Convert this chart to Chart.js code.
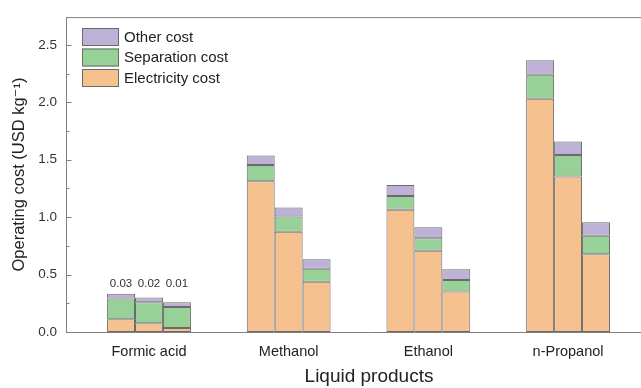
<!DOCTYPE html>
<html>
<head>
<meta charset="utf-8">
<script src="https://cdn.jsdelivr.net/npm/chart.js@4.4.0/dist/chart.umd.min.js"></script>
<style>
  html, body { margin: 0; padding: 0; background: #fff; overflow: hidden; width: 641px; height: 388px; }
  #wrap { position: absolute; left: 0; top: 0; width: 680px; height: 388px; }
</style>
</head>
<body>
<div id="wrap"><canvas id="c" width="680" height="388"></canvas></div>
<script>
// Products on the x axis
const categories = ['Formic acid', 'Methanol', 'Ethanol', 'n-Propanol'];
// Three bars per product (left to right), cost in USD per kg
const electricityCost = [
  [0.111, 0.077, 0.035],
  [1.313, 0.873, 0.437],
  [1.065, 0.708, 0.352],
  [2.032, 1.353, 0.676]
];
const separationCost = [
  [0.180, 0.182, 0.183],
  [0.142, 0.132, 0.114],
  [0.120, 0.109, 0.100],
  [0.208, 0.188, 0.163]
];
const otherCost = [
  [0.043, 0.041, 0.042],
  [0.081, 0.080, 0.083],
  [0.094, 0.096, 0.094],
  [0.126, 0.117, 0.116]
];
// Notes printed above the formic acid bars
const formicLabels = ['0.03', '0.02', '0.01'];
// Labelled y ticks
const yTicks = [0, 0.5, 1.0, 1.5, 2.0, 2.5];

const FONT = "'Liberation Sans', Arial, 'DejaVu Sans', sans-serif";
const AXIS = '#808080';
const EDGE = '#6a6a6a';

const series = [
  { label: 'Electricity cost', values: electricityCost, color: '#f5c28f' },
  { label: 'Separation cost', values: separationCost, color: '#98d198' },
  { label: 'Other cost', values: otherCost, color: '#beb1d6' }
];

const datasets = [];
for (let k = 0; k < 3; k++) {
  series.forEach(s => {
    datasets.push({
      label: s.label,
      stack: 'bar' + k,
      data: categories.map((c, i) => ({ x: i, y: s.values[i][k] })),
      backgroundColor: s.color,
      borderColor: EDGE,
      borderWidth: 1,
      borderSkipped: false,
      categoryPercentage: 0.6,
      barPercentage: 1.0
    });
  });
}

const decorations = {
  id: 'decorations',
  afterDraw(chart) {
    const { ctx, chartArea } = chart;
    const ys = chart.scales.y;
    ctx.save();
    // top frame line
    ctx.strokeStyle = AXIS;
    ctx.lineWidth = 1;
    ctx.beginPath();
    ctx.moveTo(chartArea.left, chartArea.top + 0.5);
    ctx.lineTo(chartArea.right, chartArea.top + 0.5);
    ctx.stroke();
    // inward major and minor ticks on the y axis
    const x0 = Math.round(chartArea.left) + 0.5;
    yTicks.forEach(v => {
      const py = Math.round(ys.getPixelForValue(v)) + 0.5;
      ctx.beginPath();
      ctx.moveTo(x0, py);
      ctx.lineTo(x0 + 5, py);
      ctx.stroke();
      const mid = v + 0.25;
      if (mid <= ys.max) {
        const pm = Math.round(ys.getPixelForValue(mid)) + 0.5;
        ctx.beginPath();
        ctx.moveTo(x0, pm);
        ctx.lineTo(x0 + 3, pm);
        ctx.stroke();
      }
    });

    // notes above the formic acid bars
    const tops = [];
    chart.data.datasets.forEach((d, di) => {
      if (d.label === 'Other cost') tops.push(chart.getDatasetMeta(di).data[0]);
    });
    const topY = Math.min(...tops.map(el => el.y));
    ctx.fillStyle = '#333';
    ctx.font = '11.5px ' + FONT;
    ctx.textAlign = 'center';
    ctx.textBaseline = 'middle';
    tops.forEach((el, k) => ctx.fillText(formicLabels[k], el.x, topY - 10));

    // legend, top entry first
    const entries = series.slice().reverse();
    const bx = 82, bw = 37, bh = 18, gap = 20.5;
    ctx.font = '15px ' + FONT;
    ctx.textAlign = 'left';
    entries.forEach((s, i) => {
      const by = 28 + i * gap;
      ctx.fillStyle = s.color;
      ctx.fillRect(bx, by, bw, bh);
      ctx.strokeStyle = EDGE;
      ctx.strokeRect(bx + 0.5, by + 0.5, bw - 1, bh - 1);
      ctx.fillStyle = '#222';
      ctx.fillText(s.label, bx + bw + 5, by + bh / 2 + 0.5);
    });
    ctx.restore();
  }
};

new Chart(document.getElementById('c'), {
  type: 'bar',
  data: { datasets },
  plugins: [decorations],
  options: {
    responsive: false,
    animation: false,
    layout: { padding: { top: 12, right: 8, left: 0, bottom: 0 } },
    plugins: { legend: { display: false }, tooltip: { enabled: false } },
    scales: {
      x: {
        type: 'linear',
        offset: false,
        min: -0.594,
        max: 3.744,
        afterBuildTicks: s => { s.ticks = categories.map((c, i) => ({ value: i })); },
        afterFit: s => { s.height = 56; },
        grid: { display: false, drawTicks: false },
        border: { display: true, color: AXIS, width: 1 },
        ticks: {
          callback: v => categories[v],
          font: { family: FONT, size: 14.5 },
          color: '#222',
          padding: 11,
          maxRotation: 0,
          autoSkip: false
        },
        title: {
          display: true,
          text: 'Liquid products',
          font: { family: FONT, size: 19 },
          color: '#222',
          padding: { top: 0, bottom: 0 }
        }
      },
      y: {
        stacked: true,
        min: 0,
        max: 2.742,
        afterBuildTicks: s => { s.ticks = yTicks.map(v => ({ value: v })); },
        afterFit: s => { s.width = 66; },
        grid: { display: false, drawTicks: false },
        border: { display: true, color: AXIS, width: 1 },
        ticks: {
          callback: v => v.toFixed(1),
          font: { family: FONT, size: 13.5 },
          color: '#333',
          padding: 9
        },
        title: {
          display: true,
          text: 'Operating cost (USD kg⁻¹)',
          font: { family: FONT, size: 16.5 },
          color: '#222',
          padding: { top: 10, bottom: 0 }
        }
      }
    }
  }
});
</script>
</body>
</html>
